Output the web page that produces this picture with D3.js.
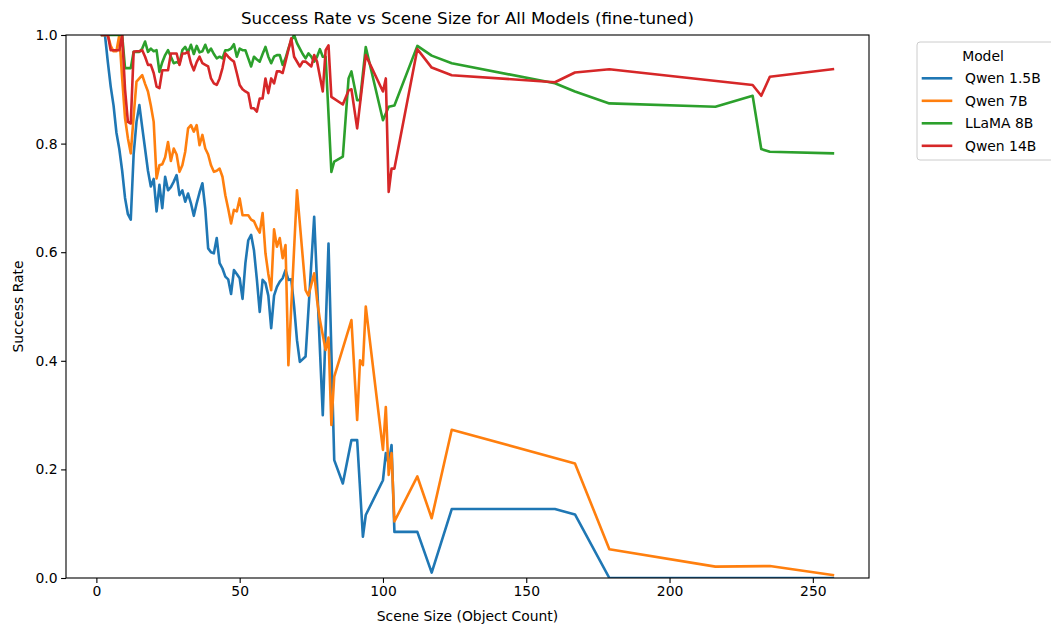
<!DOCTYPE html>
<html>
<head>
<meta charset="utf-8">
<script src="https://cdn.jsdelivr.net/npm/d3@7"></script>
<style>
  body { margin: 0; background: #fff; }
  svg { font-family: "DejaVu Sans", sans-serif; display: block; }
</style>
</head>
<body>
<svg id="chart"></svg>
<script>
// data: [scene size, success rate]
const qwen15 = [[2,1.0],[3,1.0],[4,0.95],[5,0.905],[6,0.87],[7,0.82],[8,0.79],[9,0.75],[10,0.70],[11,0.67],[12,0.66],[13,0.78],[14,0.84],[15,0.871],[16,0.83],[17,0.79],[18,0.75],[19,0.721],[20,0.735],[21,0.675],[22,0.724],[23,0.681],[24,0.739],[25,0.714],[26,0.72],[27,0.73],[28,0.742],[29,0.705],[30,0.714],[31,0.693],[32,0.708],[33,0.69],[34,0.667],[35,0.69],[36,0.71],[37,0.727],[38,0.68],[39,0.607],[40,0.60],[41,0.598],[42,0.626],[43,0.58],[44,0.57],[45,0.555],[46,0.55],[47,0.523],[48,0.567],[49,0.56],[50,0.552],[51,0.514],[52,0.58],[53,0.622],[54,0.632],[55,0.603],[56,0.55],[57,0.49],[58,0.549],[59,0.543],[60,0.52],[61,0.46],[62,0.52],[63,0.536],[64,0.546],[65,0.552],[66,0.567],[67,0.549],[68,0.55],[69,0.50],[70,0.438],[71,0.398],[73,0.408],[76,0.665],[79,0.30],[81,0.616],[83,0.217],[86,0.174],[89,0.254],[91,0.254],[93,0.076],[94,0.116],[100,0.18],[101,0.23],[102,0.21],[103,0.245],[104,0.085],[112,0.085],[117,0.01],[124,0.127],[160,0.127],[167,0.117],[179,0.0],[216,0.0],[229,0.0],[235,0.0],[257,0.0]];

const qwen7 = [[2,1.0],[3,1.0],[4,1.0],[5,0.98],[6,0.97],[7,0.97],[8,1.0],[9,0.92],[10,0.847],[11,0.81],[12,0.782],[13,0.85],[14,0.914],[15,0.92],[16,0.926],[17,0.91],[18,0.896],[19,0.87],[20,0.84],[21,0.736],[22,0.76],[23,0.762],[24,0.775],[25,0.803],[26,0.768],[27,0.791],[28,0.78],[29,0.748],[30,0.76],[31,0.785],[32,0.828],[33,0.834],[34,0.822],[35,0.834],[36,0.797],[37,0.816],[38,0.791],[39,0.78],[40,0.76],[41,0.748],[42,0.75],[43,0.754],[44,0.739],[45,0.705],[46,0.68],[47,0.653],[48,0.678],[49,0.675],[50,0.699],[51,0.668],[52,0.668],[53,0.668],[54,0.66],[55,0.657],[56,0.645],[57,0.636],[58,0.672],[59,0.598],[60,0.56],[61,0.53],[62,0.642],[63,0.61],[64,0.626],[65,0.589],[66,0.613],[67,0.392],[70,0.714],[73,0.53],[74,0.52],[76,0.561],[77,0.512],[78,0.475],[80,0.42],[81,0.443],[82,0.282],[83,0.371],[89,0.475],[91,0.291],[92,0.401],[93,0.392],[94,0.50],[100,0.236],[101,0.315],[102,0.19],[103,0.23],[104,0.104],[112,0.187],[117,0.11],[124,0.273],[167,0.211],[179,0.053],[216,0.021],[235,0.022],[257,0.0055]];

const llama8 = [[2,1.0],[3,1.0],[4,1.0],[5,1.0],[6,1.0],[7,1.0],[8,1.0],[9,1.0],[10,0.939],[11,0.939],[12,0.939],[13,0.969],[14,0.969],[15,0.969],[16,0.975],[17,0.988],[18,0.969],[19,0.975],[20,0.97],[21,0.972],[22,0.932],[23,0.95],[24,0.963],[25,0.972],[26,0.96],[27,0.948],[28,0.95],[29,0.948],[30,0.972],[31,0.978],[32,0.968],[33,0.982],[34,0.965],[35,0.98],[36,0.968],[37,0.97],[38,0.982],[39,0.968],[40,0.975],[41,0.965],[42,0.957],[43,0.96],[44,0.957],[45,0.972],[46,0.972],[47,0.975],[48,0.983],[49,0.96],[50,0.975],[51,0.972],[52,0.972],[53,0.957],[54,0.942],[55,0.96],[56,0.955],[57,0.951],[58,0.965],[59,0.978],[60,0.96],[61,0.948],[62,0.96],[63,0.963],[64,0.963],[65,0.945],[66,0.957],[67,0.975],[68,0.99],[69,1.0],[70,0.985],[71,0.975],[72,0.965],[73,0.957],[74,0.966],[75,0.96],[76,0.951],[77,0.96],[78,0.974],[79,0.96],[80,0.96],[82,0.748],[83,0.767],[86,0.776],[88,0.92],[89,0.933],[91,0.88],[92,0.88],[94,0.978],[100,0.843],[102,0.868],[104,0.87],[112,0.98],[117,0.962],[124,0.948],[160,0.911],[167,0.896],[179,0.874],[216,0.868],[229,0.888],[232,0.79],[235,0.785],[257,0.782]];

const qwen14 = [[2,1.0],[3,1.0],[4,1.0],[5,0.972],[6,0.972],[7,0.972],[8,0.972],[9,1.0],[10,0.9],[11,0.84],[12,0.837],[13,0.969],[14,0.97],[15,0.97],[16,0.972],[17,0.96],[18,0.945],[19,0.945],[20,0.93],[21,0.905],[22,0.902],[23,0.935],[24,0.935],[25,0.935],[26,0.966],[27,0.966],[28,0.966],[29,0.945],[30,0.966],[31,0.966],[32,0.969],[33,0.948],[34,0.935],[35,0.95],[36,0.96],[37,0.948],[38,0.945],[39,0.942],[40,0.92],[41,0.911],[42,0.908],[43,0.92],[44,0.939],[45,0.966],[46,0.96],[47,0.955],[48,0.951],[49,0.93],[50,0.908],[51,0.9],[52,0.896],[53,0.893],[54,0.865],[55,0.865],[56,0.859],[57,0.883],[58,0.883],[59,0.92],[60,0.893],[61,0.92],[62,0.911],[63,0.933],[64,0.933],[65,0.93],[66,0.951],[68,0.994],[69,0.96],[71,0.942],[72,0.951],[73,0.951],[75,0.942],[76,0.963],[77,0.951],[79,0.896],[80,0.972],[81,0.981],[82,0.886],[86,0.872],[88,0.898],[89,0.9],[91,0.828],[94,0.963],[100,0.896],[101,0.92],[102,0.711],[103,0.754],[104,0.754],[112,0.974],[117,0.94],[124,0.926],[160,0.913],[167,0.931],[179,0.937],[229,0.908],[232,0.888],[235,0.923],[257,0.937]];

const modelNames = ["Qwen 1.5B", "Qwen 7B", "LLaMA 8B", "Qwen 14B"];
const modelColors = ["#1f77b4", "#ff7f0e", "#2ca02c", "#d62728"];
const xTicks = [0, 50, 100, 150, 200, 250];
const yTicks = [0.0, 0.2, 0.4, 0.6, 0.8, 1.0];

const series = [qwen15, qwen7, llama8, qwen14];

// layout
const width = 1051;
const height = 628;
const marginLeft = 66;
const marginRight = 182;
const marginTop = 35;
const marginBottom = 50;

const x = d3.scaleLinear([-10.6, 269.6], [marginLeft, width - marginRight]);
const y = d3.scaleLinear([0, 1], [height - marginBottom, marginTop]);

const svg = d3.select("#chart")
	.attr("width", width)
	.attr("height", height);

const line = d3.line()
	.x(d => x(d[0]))
	.y(d => y(d[1]));

// clip to the axes box
svg.append("clipPath")
	.attr("id", "plot-clip")
	.append("rect")
	.attr("x", marginLeft)
	.attr("y", marginTop)
	.attr("width", width - marginLeft - marginRight)
	.attr("height", height - marginTop - marginBottom);

const plot = svg.append("g").attr("clip-path", "url(#plot-clip)");

series.forEach((data, i) => {
	plot.append("path")
		.datum(data)
		.attr("fill", "none")
		.attr("stroke", modelColors[i])
		.attr("stroke-width", 2.6)
		.attr("stroke-linejoin", "round")
		.attr("stroke-linecap", "square")
		.attr("d", line);
});

// x axis
svg.append("g")
	.attr("transform", `translate(0,${height - marginBottom})`)
	.call(d3.axisBottom(x).tickValues(xTicks).tickFormat(d3.format("d")).tickSize(4.9).tickPadding(3.5).tickSizeOuter(0))
	.call(g => g.select(".domain").remove())
	.call(g => g.selectAll(".tick line").attr("stroke", "#000").attr("stroke-width", 1.1))
	.call(g => g.selectAll(".tick text").attr("fill", "#000").attr("font-size", "13.9px").attr("font-family", "DejaVu Sans"));

// y axis
svg.append("g")
	.attr("transform", `translate(${marginLeft},0)`)
	.call(d3.axisLeft(y).tickValues(yTicks).tickFormat(d3.format(".1f")).tickSize(4.9).tickPadding(3.5).tickSizeOuter(0))
	.call(g => g.select(".domain").remove())
	.call(g => g.selectAll(".tick line").attr("stroke", "#000").attr("stroke-width", 1.1))
	.call(g => g.selectAll(".tick text").attr("fill", "#000").attr("font-size", "13.9px").attr("font-family", "DejaVu Sans"));

// spines
svg.append("rect")
	.attr("x", marginLeft)
	.attr("y", marginTop)
	.attr("width", width - marginLeft - marginRight)
	.attr("height", height - marginTop - marginBottom)
	.attr("fill", "none")
	.attr("stroke", "#000")
	.attr("stroke-width", 1.1);

// title and axis labels
svg.append("text")
	.attr("x", (marginLeft + width - marginRight) / 2)
	.attr("y", 24)
	.attr("text-anchor", "middle")
	.attr("font-size", "16.7px")
	.text("Success Rate vs Scene Size for All Models (fine-tuned)");

svg.append("text")
	.attr("x", (marginLeft + width - marginRight) / 2)
	.attr("y", 621)
	.attr("text-anchor", "middle")
	.attr("font-size", "13.9px")
	.text("Scene Size (Object Count)");

svg.append("text")
	.attr("transform", `translate(23,${(marginTop + height - marginBottom) / 2}) rotate(-90)`)
	.attr("text-anchor", "middle")
	.attr("font-size", "13.9px")
	.text("Success Rate");

// legend (box runs past the right edge, as in the reference)
const legend = svg.append("g").attr("transform", "translate(917,42)");

legend.append("rect")
	.attr("width", 142)
	.attr("height", 118)
	.attr("rx", 3)
	.attr("fill", "#fff")
	.attr("fill-opacity", 0.8)
	.attr("stroke", "#cccccc")
	.attr("stroke-width", 1);

legend.append("text")
	.attr("x", 66)
	.attr("y", 18.5)
	.attr("text-anchor", "middle")
	.attr("font-size", "13.9px")
	.text("Model");

modelNames.forEach((name, i) => {
	const rowY = 36.3 + i * 22.5;
	legend.append("line")
		.attr("x1", 6).attr("x2", 34)
		.attr("y1", rowY).attr("y2", rowY)
		.attr("stroke", modelColors[i])
		.attr("stroke-width", 2.6)
		.attr("stroke-linecap", "square");
	legend.append("text")
		.attr("x", 48)
		.attr("y", rowY)
		.attr("dy", "0.36em")
		.attr("font-size", "13.9px")
		.text(name);
});
</script>
</body>
</html>
